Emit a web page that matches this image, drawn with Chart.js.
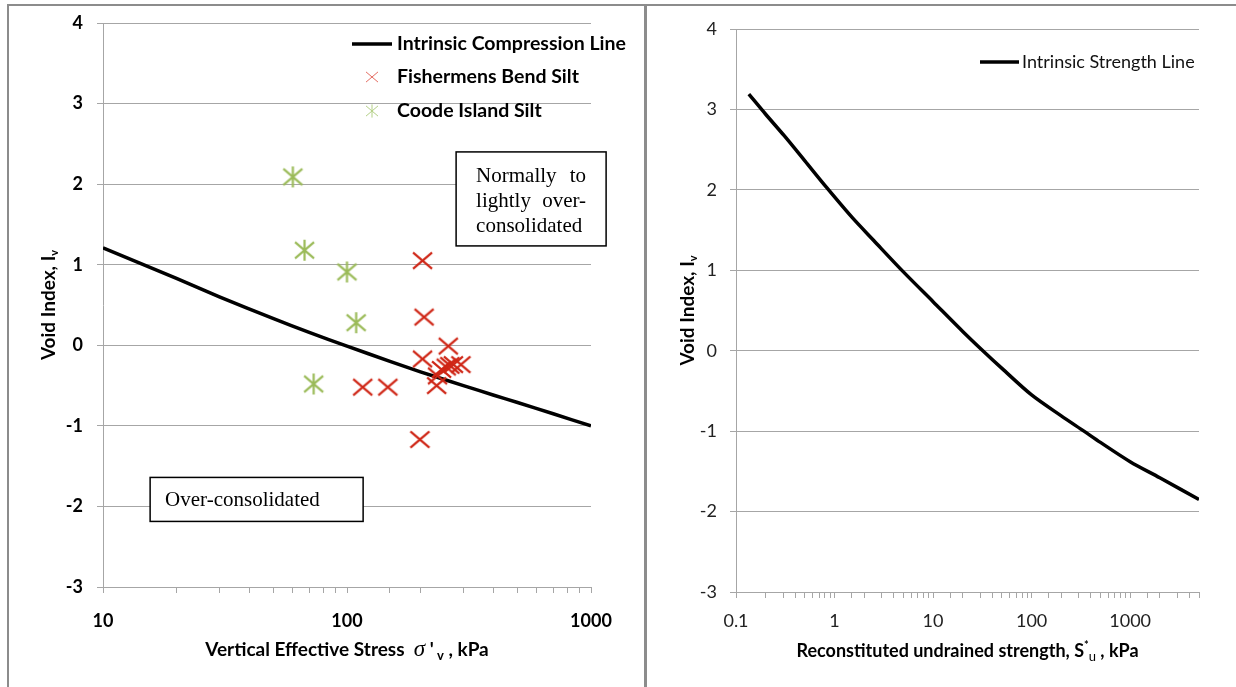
<!DOCTYPE html>
<html>
<head>
<meta charset="utf-8">
<script src="https://cdn.jsdelivr.net/npm/chart.js@4.4.1/dist/chart.umd.min.js"></script>
<style>
  body { margin: 0; width: 1236px; height: 687px; overflow: hidden; background: #fff; }
  .frame { position: absolute; border: 0 solid #8c8c8c; }
  #frameL { left: 7px; top: 4px; width: 635px; height: 700px; border-left-width: 2px; border-top-width: 2px; border-right-width: 3px; }
  #frameR { left: 647px; top: 4px; width: 620px; height: 700px; border-top-width: 2px; }
  canvas { position: absolute; }
  #icl { left: 9px; top: 0px; }
  #isl { left: 648px; top: 6px; }
</style>
</head>
<body>
<div class="frame" id="frameL"></div>
<div class="frame" id="frameR"></div>
<canvas id="icl" width="635" height="687"></canvas>
<canvas id="isl" width="588" height="681"></canvas>
<script>
// Intrinsic compression line (vertical effective stress kPa vs void index)
const iclStress = [10, 20, 30, 50, 70, 100, 150, 200, 300, 400, 500, 700, 1000];
const iclIndex = [1.21, 0.83, 0.60, 0.33, 0.16, -0.01, -0.20, -0.33, -0.50, -0.62, -0.71, -0.85, -1.00];

// Fishermens Bend Silt samples
const fbStress = [204, 207, 204, 260, 116, 147, 233, 235, 244, 255, 264, 273, 293, 199];
const fbIndex = [1.05, 0.35, -0.17, -0.01, -0.52, -0.52, -0.50, -0.38, -0.30, -0.27, -0.25, -0.24, -0.24, -1.17];

// Coode Island Silt samples
const ciStress = [60, 67, 100, 109, 73];
const ciIndex = [2.09, 1.18, 0.91, 0.28, -0.48];

// Intrinsic strength line (reconstituted undrained strength kPa vs void index)
const islStrength = [0.135, 0.2, 0.31, 0.5, 0.83, 1.5, 2.5, 5, 10, 20, 32, 50, 100, 200, 340, 500, 1000, 2000, 5000];
const islIndex = [3.19, 2.94, 2.67, 2.36, 2.03, 1.66, 1.37, 0.98, 0.61, 0.24, 0.0, -0.22, -0.55, -0.81, -1.0, -1.14, -1.38, -1.58, -1.85];

const yTicks = [-3, -2, -1, 0, 1, 2, 3, 4];

const RED = '#cf2616';
const GREEN = '#9bbb59';
const GRID = '#a6a6a6';
const SANS = 'Lato, "Open Sans", sans-serif';
const SERIF = '"Liberation Serif", "DejaVu Serif", serif';

const pts = (xs, ys) => xs.map((x, i) => ({ x: x, y: ys[i] }));

// small canvases used as point styles: 'x' or excel-like asterisk
function marker(kind, color, r, lw) {
  const c = document.createElement('canvas');
  c.width = c.height = Math.ceil(r * 2 + 6);
  const g = c.getContext('2d');
  const m = c.width / 2;
  g.strokeStyle = color;
  g.lineWidth = lw;
  g.beginPath();
  g.moveTo(m - r, m - r * 0.85); g.lineTo(m + r, m + r * 0.85);
  g.moveTo(m + r, m - r * 0.85); g.lineTo(m - r, m + r * 0.85);
  if (kind === 'star') { g.moveTo(m, m - r * 1.1); g.lineTo(m, m + r * 1.1); }
  g.stroke();
  return c;
}

const redX = marker('x', RED, 9.5, 2.2);
const greenStar = marker('star', GREEN, 9.5, 2.2);

const decadeLabel = v => {
  const l = Math.log10(v);
  return Math.abs(l - Math.round(l)) < 1e-6 ? String(v) : '';
};

// text with mixed fonts / sub- and superscripts: [text, font, dy]
function richText(ctx, parts, x, y) {
  let w = 0;
  parts.forEach(p => { ctx.font = p[1]; w += ctx.measureText(p[0]).width; });
  let cx = x - w / 2;
  ctx.textAlign = 'left';
  ctx.textBaseline = 'alphabetic';
  parts.forEach(p => {
    ctx.font = p[1];
    ctx.fillText(p[0], cx, y + (p[2] || 0));
    cx += ctx.measureText(p[0]).width;
  });
}

function yTitle(ctx, area, dx) {
  ctx.save();
  ctx.translate(area.left - dx, (area.top + area.bottom) / 2);
  ctx.rotate(-Math.PI / 2);
  ctx.fillStyle = '#000';
  richText(ctx, [['Void Index, I', 'bold 19px ' + SANS], ['v', 'bold 11px ' + SANS, 3]], 0, 7);
  ctx.restore();
}

function lineKey(ctx, x0, x1, y, w) {
  ctx.strokeStyle = '#000';
  ctx.lineWidth = w;
  ctx.beginPath(); ctx.moveTo(x0, y); ctx.lineTo(x1, y); ctx.stroke();
}

function textBox(ctx, x, y, w, h) {
  ctx.fillStyle = '#fff';
  ctx.fillRect(x, y, w, h);
  ctx.strokeStyle = '#000';
  ctx.lineWidth = 1.5;
  ctx.strokeRect(x, y, w, h);
}

// spread words over a fixed width
function justify(ctx, words, x, y, width) {
  const total = words.reduce((s, t) => s + ctx.measureText(t).width, 0);
  const gap = (width - total) / (words.length - 1);
  let cx = x;
  words.forEach(t => { ctx.fillText(t, cx, y); cx += ctx.measureText(t).width + gap; });
}

const iclDecor = {
  id: 'iclDecor',
  afterDatasetsDraw(chart) {
    const { ctx, chartArea: a, scales } = chart;
    ctx.save();

    // legend
    const lx = a.left + 249, ty = a.top;
    lineKey(ctx, lx, lx + 40, ty + 21, 3.5);
    ctx.drawImage(marker('x', '#e36b60', 6, 1), lx + 20 - 9, ty + 54 - 9);
    ctx.drawImage(marker('star', '#b3cf86', 6, 1), lx + 20 - 9, ty + 88 - 9);
    ctx.fillStyle = '#000';
    ctx.font = 'bold 19.5px ' + SANS;
    ctx.textBaseline = 'middle';
    ctx.textAlign = 'left';
    ctx.fillText(chart.data.datasets[0].label, lx + 45, ty + 21);
    ctx.fillText(chart.data.datasets[1].label, lx + 45, ty + 54);
    ctx.fillText(chart.data.datasets[2].label, lx + 45, ty + 88);

    // region notes
    const bx = scales.x.getPixelForValue(280), by = scales.y.getPixelForValue(2.4);
    textBox(ctx, bx, by, 150, 94);
    ctx.fillStyle = '#000';
    ctx.font = '21px ' + SERIF;
    ctx.textBaseline = 'alphabetic';
    justify(ctx, ['Normally', 'to'], bx + 20, by + 30, 110);
    justify(ctx, ['lightly', 'over-'], bx + 20, by + 55, 110);
    ctx.fillText('consolidated', bx + 20, by + 80);

    const ox = scales.x.getPixelForValue(15.6), oy = scales.y.getPixelForValue(-1.64);
    textBox(ctx, ox, oy, 213, 44);
    ctx.fillStyle = '#000';
    ctx.fillText('Over-consolidated', ox + 15, oy + 29);

    // axis titles
    const b = 'bold 19px ' + SANS;
    richText(ctx, [
      ['Vertical Effective Stress  ', b],
      ['\u03C3', 'italic 23px ' + SERIF],
      [' \'', b],
      [' v', 'bold 13px ' + SANS, 4],
      [' , kPa', b]
    ], (a.left + a.right) / 2, a.bottom + 69);
    yTitle(ctx, a, 55);
    ctx.restore();
  }
};

const islDecor = {
  id: 'islDecor',
  afterDatasetsDraw(chart) {
    const { ctx, chartArea: a } = chart;
    ctx.save();
    const lx = a.left + 244;
    lineKey(ctx, lx, lx + 39, a.top + 33, 3.5);
    ctx.fillStyle = '#111';
    ctx.font = '18px ' + SANS;
    ctx.textBaseline = 'middle';
    ctx.textAlign = 'left';
    ctx.fillText(chart.data.datasets[0].label, lx + 42, a.top + 33);

    const b = 'bold 18px ' + SANS;
    ctx.fillStyle = '#000';
    richText(ctx, [
      ['Reconstituted undrained strength, S', b],
      ['*', 'bold 11px ' + SANS, -8],
      ['u', '13px ' + SANS, 4],
      [' , kPa', b]
    ], (a.left + a.right) / 2, a.bottom + 65);
    yTitle(ctx, a, 49);
    ctx.restore();
  }
};

function yScale(width, font, color, pad) {
  return {
    min: -3, max: 4,
    afterFit: s => { s.width = width; },
    afterBuildTicks: s => { s.ticks = yTicks.map(v => ({ value: v })); },
    grid: { color: GRID, tickLength: 6 },
    border: { color: GRID },
    ticks: { font: font, color: color, padding: pad }
  };
}

function xScale(min, max, height, font, color, pad) {
  return {
    type: 'logarithmic', min: min, max: max,
    afterFit: s => { s.height = height; },
    grid: { drawOnChartArea: false, color: GRID, tickLength: 6 },
    border: { color: GRID },
    ticks: { autoSkip: false, maxRotation: 0, padding: pad, font: font, color: color, callback: decadeLabel }
  };
}

new Chart(document.getElementById('icl'), {
  type: 'scatter',
  data: {
    datasets: [
      {
        label: 'Intrinsic Compression Line',
        data: pts(iclStress, iclIndex),
        showLine: true,
        borderColor: '#000',
        borderWidth: 3.5,
        pointRadius: 0,
        tension: 0.2,
        order: 3
      },
      {
        label: 'Fishermens Bend Silt',
        data: pts(fbStress, fbIndex),
        pointStyle: redX,
        order: 1
      },
      {
        label: 'Coode Island Silt',
        data: pts(ciStress, ciIndex),
        pointStyle: greenStar,
        order: 2
      }
    ]
  },
  options: {
    responsive: false,
    animation: false,
    layout: { padding: { top: 23, right: 53, left: 0, bottom: 0 } },
    plugins: { legend: { display: false }, tooltip: { enabled: false } },
    scales: {
      x: xScale(10, 1000, 100, { family: SANS, size: 18, weight: 'bold', lineHeight: 1 }, '#000', 19),
      y: yScale(94, { family: SANS, size: 18, weight: 'bold', lineHeight: 1 }, '#000', 14)
    }
  },
  plugins: [iclDecor]
});

new Chart(document.getElementById('isl'), {
  type: 'scatter',
  data: {
    datasets: [
      {
        label: 'Intrinsic Strength Line',
        data: pts(islStrength, islIndex),
        showLine: true,
        borderColor: '#000',
        borderWidth: 3.5,
        pointRadius: 0,
        tension: 0.3
      }
    ]
  },
  options: {
    responsive: false,
    animation: false,
    layout: { padding: { top: 23, right: 37, left: 0, bottom: 0 } },
    plugins: { legend: { display: false }, tooltip: { enabled: false } },
    scales: {
      x: xScale(0.1, 5000, 95, { family: SANS, size: 18, lineHeight: 1 }, '#222', 14),
      y: yScale(88, { family: SANS, size: 18, lineHeight: 1 }, '#222', 13)
    }
  },
  plugins: [islDecor]
});
</script>
</body>
</html>
